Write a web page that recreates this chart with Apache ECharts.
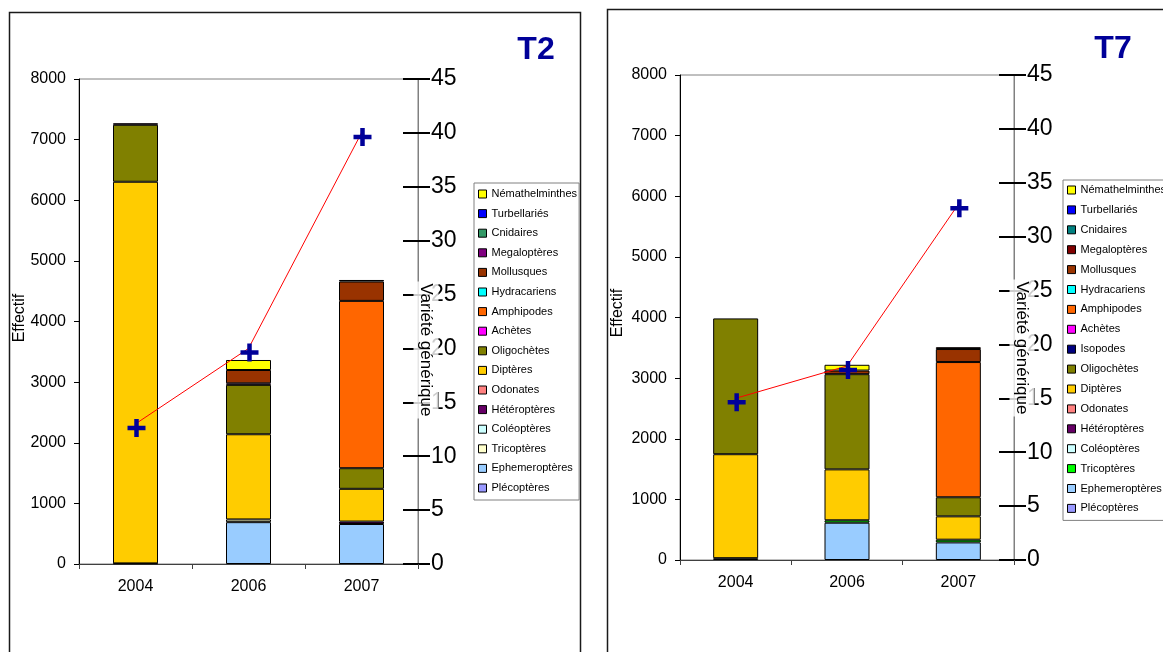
<!DOCTYPE html>
<html>
<head>
<meta charset="utf-8">
<script src="https://cdn.jsdelivr.net/npm/echarts@6/dist/echarts.min.js"></script>
<style>
  html, body { margin: 0; padding: 0; background: #fff; overflow: hidden; }
  #t2 { position: absolute; left: 0; top: 0; width: 600px; height: 652px; }
  #t7 { position: absolute; left: 600px; top: 0; width: 563px; height: 652px; }
</style>
</head>
<body>
<div id="t2"></div>
<div id="t7"></div>
<script>
// Sampling years (x categories)
const years = ['2004', '2006', '2007'];

// ---- Station T2: taxa listed from the bottom of the stack to the top ----
const taxaT2 = ['Plécoptères', 'Ephemeroptères', 'Tricoptères', 'Coléoptères', 'Hétéroptères',
  'Odonates', 'Diptères', 'Oligochètes', 'Achètes', 'Amphipodes', 'Hydracariens',
  'Mollusques', 'Megaloptères', 'Cnidaires', 'Turbellariés', 'Némathelminthes'];
const colorsT2 = ['#9999FF', '#99CCFF', '#FFFFCC', '#CCFFFF', '#660066',
  '#FF8080', '#FFCC00', '#808000', '#FF00FF', '#FF6600', '#00FFFF',
  '#993300', '#800080', '#339966', '#0000FF', '#FFFF00'];
// Effectif per taxon (same order as taxaT2)
const t2Counts2004 = [0, 10, 0, 0, 0, 0, 6295, 940, 0, 0, 0, 0, 25, 0, 0, 0];
const t2Counts2006 = [0, 690, 45, 0, 0, 0, 1405, 815, 25, 0, 0, 220, 0, 0, 0, 165];
const t2Counts2007 = [0, 660, 0, 0, 40, 0, 540, 340, 0, 2760, 0, 320, 0, 0, 25, 0];
// Variété générique (number of genera)
const t2Variety = [13, 20, 40];

// ---- Station T7 ----
const taxaT7 = ['Plécoptères', 'Ephemeroptères', 'Tricoptères', 'Coléoptères', 'Hétéroptères',
  'Odonates', 'Diptères', 'Oligochètes', 'Isopodes', 'Achètes', 'Amphipodes', 'Hydracariens',
  'Mollusques', 'Megaloptères', 'Cnidaires', 'Turbellariés', 'Némathelminthes'];
const colorsT7 = ['#9999FF', '#99CCFF', '#00FF00', '#CCFFFF', '#660066',
  '#FF8080', '#FFCC00', '#808000', '#000080', '#FF00FF', '#FF6600', '#00FFFF',
  '#993300', '#800000', '#008080', '#0000FF', '#FFFF00'];
const t7Counts2004 = [0, 30, 0, 0, 0, 0, 1715, 2240, 0, 0, 0, 0, 0, 0, 0, 0, 0];
const t7Counts2006 = [0, 615, 40, 0, 0, 0, 840, 1570, 0, 0, 0, 0, 60, 0, 0, 0, 95];
const t7Counts2007 = [0, 290, 45, 0, 0, 0, 385, 315, 0, 0, 2230, 0, 215, 30, 0, 0, 0];
const t7Variety = [15, 18, 33];

// Axis tick values
const effectifTicks = { min: 0, max: 8000, step: 1000 };
const varieteTicks = { min: 0, max: 45, step: 5 };

const FONT = '"Liberation Sans", Arial, Helvetica, sans-serif';
const CROSS = 'path://M6,0H10V6H16V10H10V16H6V10H0V6H6Z';
const plain = v => String(v);

function buildOption(cfg) {
  const bars = cfg.taxa.map((name, i) => ({
    name: name,
    type: 'bar',
    stack: 'total',
    yAxisIndex: 0,
    barWidth: 45,
    itemStyle: { color: cfg.colors[i], borderColor: '#000', borderWidth: 1 },
    emphasis: { disabled: true },
    data: cfg.counts.map(c => (c[i] === 0 ? '-' : c[i]))
  }));

  const line = {
    name: 'Variété générique',
    type: 'line',
    yAxisIndex: 1,
    data: cfg.variety,
    symbol: CROSS,
    symbolSize: 18,
    symbolOffset: [1, 4],
    showSymbol: true,
    lineStyle: { color: '#FF0000', width: 1 },
    itemStyle: { color: '#000099', borderWidth: 0 },
    emphasis: { disabled: true },
    z: 5
  };

  return {
    animation: false,
    textStyle: { fontFamily: FONT },
    grid: {
      left: cfg.grid.left, top: cfg.grid.top, width: cfg.grid.width, height: cfg.grid.height,
      show: true, borderColor: '#808080', borderWidth: 1, backgroundColor: 'transparent',
      containLabel: false, outerBoundsMode: 'none'
    },
    xAxis: {
      type: 'category',
      data: years,
      axisLine: { show: true, lineStyle: { color: '#404040', width: 1 } },
      axisTick: { show: true, length: 5, alignWithLabel: false, lineStyle: { color: '#404040' } },
      axisLabel: { color: '#000', fontSize: 16, margin: 15, fontFamily: FONT },
      splitLine: { show: false }
    },
    yAxis: [
      {
        type: 'value',
        min: effectifTicks.min, max: effectifTicks.max, interval: effectifTicks.step,
        axisLine: { show: true, lineStyle: { color: '#000', width: 1 } },
        axisTick: { show: true, length: 5, lineStyle: { color: '#000' } },
        axisLabel: { color: '#000', fontSize: 16, margin: 13, fontFamily: FONT, formatter: plain },
        splitLine: { show: false }
      },
      {
        type: 'value', position: 'right', offset: 0,
        min: varieteTicks.min, max: varieteTicks.max, interval: varieteTicks.step,
        axisLine: { show: true, lineStyle: { color: '#808080', width: 1 } },
        axisTick: { show: true, inside: false, length: 12, lineStyle: { color: '#000', width: 2 } },
        axisLabel: { color: '#000', fontSize: 23, margin: 13, fontFamily: FONT, formatter: plain },
        splitLine: { show: false }
      },
      {
        // inner half of the cross-style ticks on the secondary axis
        type: 'value', position: 'right', offset: 0,
        min: varieteTicks.min, max: varieteTicks.max, interval: varieteTicks.step,
        axisLine: { show: false },
        axisTick: { show: true, inside: true, length: 15, lineStyle: { color: '#000', width: 2 } },
        axisLabel: { show: false },
        splitLine: { show: false }
      }
    ],
    legend: {
      orient: 'vertical',
      left: cfg.legend.left, top: cfg.legend.top,
      icon: 'rect', itemWidth: 8, itemHeight: 8, itemGap: cfg.legend.gap,
      padding: cfg.legend.padding,
      borderColor: '#808080', borderWidth: 1, backgroundColor: '#fff',
      selectedMode: false,
      itemStyle: { borderColor: '#000', borderWidth: 1 },
      textStyle: { fontSize: 11, color: '#000', lineHeight: 14, fontFamily: FONT },
      data: cfg.taxa.slice().reverse()
    },
    series: bars.concat([line]),
    graphic: [
      {
        type: 'rect', z: 0, silent: true,
        shape: cfg.frame,
        style: { fill: 'none', stroke: '#1a1a1a', lineWidth: 1.5 }
      },
      {
        type: 'text', z: 100, x: cfg.title.x, y: cfg.title.y,
        style: { text: cfg.title.text, fontSize: 32, fontWeight: 'bold', fill: '#000099',
          fontFamily: FONT, align: 'center', verticalAlign: 'middle' }
      },
      {
        type: 'text', z: 100, x: cfg.effectif.x, y: cfg.effectif.y, rotation: Math.PI / 2,
        style: { text: 'Effectif', fontSize: 16, fill: '#000', fontFamily: FONT,
          align: 'center', verticalAlign: 'middle' }
      },
      {
        type: 'text', z: 100, x: cfg.variete.x, y: cfg.variete.y, rotation: -Math.PI / 2,
        style: { text: 'Variété générique', fontSize: 17, fill: '#000', fontFamily: FONT,
          align: 'center', verticalAlign: 'middle',
          backgroundColor: 'rgba(255,255,255,0.8)', padding: [4, 2] }
      }
    ]
  };
}

const chartT2 = echarts.init(document.getElementById('t2'), null, { renderer: 'canvas' });
chartT2.setOption(buildOption({
  taxa: taxaT2, colors: colorsT2,
  counts: [t2Counts2004, t2Counts2006, t2Counts2007],
  variety: t2Variety,
  grid: { left: 79, top: 79, width: 339, height: 485 },
  legend: { left: 474, top: 183, gap: 5.6, padding: [4, 2, 5, 4] },
  frame: { x: 9.5, y: 12.5, width: 571, height: 700 },
  title: { text: 'T2', x: 536, y: 50 },
  effectif: { x: 20, y: 318 },
  variete: { x: 426, y: 350 }
}));

const chartT7 = echarts.init(document.getElementById('t7'), null, { renderer: 'canvas' });
chartT7.setOption(buildOption({
  taxa: taxaT7, colors: colorsT7,
  counts: [t7Counts2004, t7Counts2006, t7Counts2007],
  variety: t7Variety,
  grid: { left: 80, top: 75, width: 334, height: 485 },
  legend: { left: 463, top: 180, gap: 5.9, padding: [3, 2, 5, 4] },
  frame: { x: 7.5, y: 9.5, width: 600, height: 700 },
  title: { text: 'T7', x: 513, y: 49 },
  effectif: { x: 18, y: 313 },
  variete: { x: 422, y: 348 }
}));
</script>
</body>
</html>
